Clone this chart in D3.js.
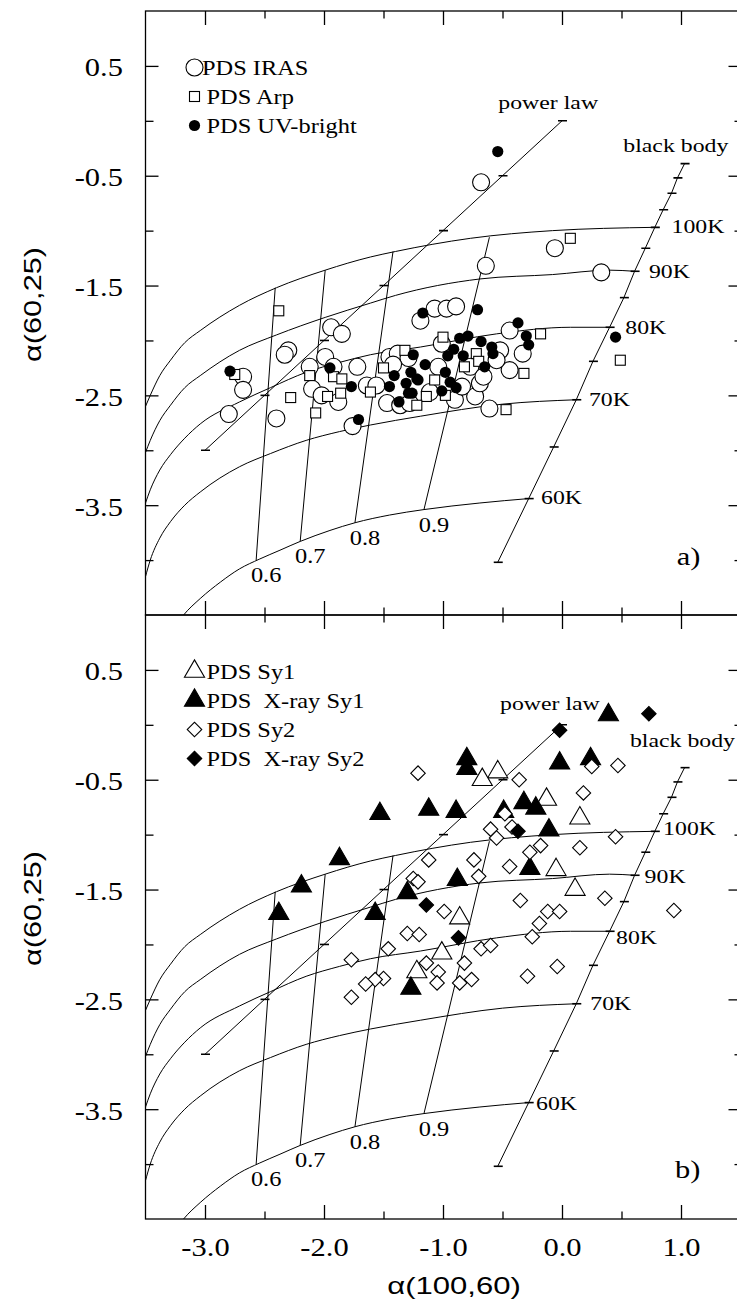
<!DOCTYPE html>
<html>
<head>
<meta charset="utf-8">
<script src="https://cdn.jsdelivr.net/npm/d3@7"></script>
<style>
  body { margin: 0; background: #fff; }
  svg text { white-space: pre; }
</style>
</head>
<body>
<div id="chart"></div>
<script>
// ---- axis ticks ----
var xMajor = [-3.0, -2.0, -1.0, 0.0, 1.0];
var xMinor = [-2.5, -1.5, -0.5, 0.5];
var yMajor = [0.5, -0.5, -1.5, -2.5, -3.5];
var yMinor = [0.0, -1.0, -2.0, -3.0, -4.0];

// ---- black body track: temperature, alpha(100,60), alpha(60,25) ----
var bbTemps = [55, 60, 65, 70, 75, 80, 85, 90, 95, 100, 105, 110, 115, 120];
var bbA100 = [-0.54, -0.28, -0.07, 0.12, 0.26, 0.40, 0.52, 0.61, 0.70, 0.78, 0.85, 0.92, 0.97, 1.03];
var bbA60 = [-4.02, -3.44, -2.97, -2.54, -2.19, -1.88, -1.61, -1.37, -1.16, -0.97, -0.81, -0.66, -0.52, -0.39];
var tempLabels = ["100K", "90K", "80K", "70K", "60K"];
var tempLabelT = [100, 90, 80, 70, 60];

// ---- power law track ----
var powerLawEnds = [[-3.0, -3.0], [0.0, 0.0]];
var powerLawTicks = [-3.0, -2.5, -2.0, -1.5, -1.0, -0.5, 0.0];

// ---- mixed model curves, one per temperature ----
var curve100K = [[-3.50,-2.60],[-3.46,-2.50],[-3.38,-2.32],[-3.29,-2.18],[-3.17,-2.02],[-3.04,-1.91],[-2.71,-1.68],[-2.40,-1.52],[-1.99,-1.36],[-1.61,-1.24],[-1.40,-1.19],[-0.77,-1.07],[-0.08,-1.00],[0.78,-0.97]];
var curve90K = [[-3.50,-3.02],[-3.46,-2.91],[-3.38,-2.73],[-3.29,-2.59],[-3.17,-2.43],[-3.04,-2.32],[-2.71,-2.09],[-2.40,-1.95],[-1.99,-1.79],[-1.61,-1.66],[-1.40,-1.59],[-0.69,-1.44],[-0.08,-1.40],[0.40,-1.36],[0.61,-1.37]];
var curve80K = [[-3.50,-3.48],[-3.46,-3.36],[-3.38,-3.18],[-3.29,-3.04],[-3.17,-2.89],[-3.04,-2.76],[-2.71,-2.56],[-2.45,-2.43],[-2.15,-2.29],[-1.87,-2.20],[-1.61,-2.13],[-1.19,-2.06],[-0.55,-1.94],[0.07,-1.88],[0.40,-1.88]];
var curve70K = [[-3.50,-4.15],[-3.46,-4.00],[-3.38,-3.80],[-3.29,-3.65],[-3.17,-3.50],[-3.04,-3.38],[-2.71,-3.15],[-2.45,-3.03],[-2.15,-2.91],[-1.87,-2.83],[-1.61,-2.77],[-1.19,-2.69],[-0.50,-2.58],[0.12,-2.54]];
var curve60K = [[-3.23,-4.57],[-3.18,-4.50],[-3.04,-4.35],[-2.87,-4.20],[-2.71,-4.08],[-2.54,-3.99],[-2.37,-3.91],[-2.20,-3.83],[-1.95,-3.73],[-1.74,-3.66],[-1.45,-3.59],[-1.16,-3.54],[-0.69,-3.48],[-0.28,-3.44]];

// ---- constant fraction lines ----
var fracLabels = ["0.6", "0.7", "0.8", "0.9"];
var fracTop = [[-2.41,-1.52],[-1.99,-1.36],[-1.42,-1.19],[-0.61,-1.06]];
var fracBottom = [[-2.57,-4.00],[-2.20,-3.83],[-1.74,-3.66],[-1.16,-3.54]];

// ---- panel a samples ----
var irasPoints = [[-0.68,-0.56],[-0.06,-1.16],[-0.64,-1.32],[0.33,-1.38],[-1.07,-1.71],[-0.97,-1.71],[-0.89,-1.69],[-1.19,-1.82],
  [-0.44,-1.91],[-0.33,-2.12],[-0.44,-2.27],[-0.61,-2.62],[-0.73,-2.51],[-0.52,-2.09],[-1.01,-2.03],[-0.77,-2.24],[-0.69,-2.39],
  [-0.55,-2.18],[-1.04,-2.24],[-1.94,-1.88],[-1.85,-1.94],[-2.30,-2.09],[-2.33,-2.13],[-2.68,-2.33],[-2.68,-2.45],[-2.80,-2.67],
  [-2.40,-2.71],[-1.76,-2.78],[-2.12,-2.24],[-1.99,-2.15],[-1.92,-2.24],[-2.10,-2.44],[-2.02,-2.50],[-1.88,-2.56],[-1.72,-2.24],
  [-1.64,-2.41],[-1.45,-2.15],[-1.38,-2.12],[-1.29,-2.16],[-1.42,-2.22],[-1.56,-2.41],[-1.47,-2.57],[-1.36,-2.59],[-1.28,-2.57],
  [-1.11,-2.47],[-0.90,-2.54],[-0.84,-2.42],[-0.66,-2.33]];
var arpPoints = [[-2.38,-1.73],[0.07,-1.07],[-0.18,-1.94],[0.49,-2.18],[-0.47,-2.63],[-0.32,-2.30],[-1.00,-1.97],[-0.72,-2.12],
  [-0.70,-2.19],[-1.07,-2.36],[-1.14,-2.51],[-0.98,-2.50],[-1.22,-2.59],[-2.75,-2.31],[-2.28,-2.52],[-2.07,-2.66],[-2.12,-2.32],
  [-1.92,-2.33],[-1.85,-2.35],[-1.97,-2.51],[-1.86,-2.48],[-1.61,-2.47],[-1.50,-2.25],[-1.32,-2.09],[-0.82,-2.24]];
var uvPoints = [[-0.54,-0.28],[0.45,-1.97],[-1.17,-1.75],[-0.71,-1.72],[-0.37,-1.84],[-0.30,-1.96],[-0.28,-2.04],[-0.86,-1.98],
  [-0.79,-1.96],[-0.68,-2.01],[-0.59,-2.06],[-0.58,-2.12],[-0.91,-2.08],[-0.96,-2.14],[-0.83,-2.14],[-0.98,-2.29],[-0.94,-2.38],
  [-0.89,-2.43],[-1.01,-2.46],[-0.65,-2.24],[-1.15,-2.22],[-1.25,-2.13],[-1.21,-2.36],[-1.26,-2.48],[-2.79,-2.28],[-1.71,-2.72],
  [-1.95,-2.25],[-1.77,-2.42],[-1.41,-2.32],[-1.45,-2.42],[-1.37,-2.56],[-1.31,-2.39],[-1.27,-2.29],[-1.22,-2.35],[-1.29,-2.48]];

// ---- panel b samples ----
var sy1Points = [[-0.54,-0.43],[-0.67,-0.50],[-0.13,-0.68],[0.15,-0.85],[-0.05,-1.32],[0.11,-1.50],[-0.86,-1.76],[-1.01,-2.08],[-1.22,-2.25]];
var xSy1Points = [[0.39,0.09],[-0.80,-0.31],[-0.80,-0.40],[-0.02,-0.35],[0.24,-0.31],[-1.53,-0.81],[-1.12,-0.77],[-0.89,-0.79],
  [-0.49,-0.79],[-0.32,-0.71],[-0.22,-0.76],[-0.11,-0.96],[-0.27,-1.31],[-0.88,-1.41],[-1.30,-1.53],[-1.57,-1.72],[-1.87,-1.22],
  [-2.19,-1.47],[-2.38,-1.72],[-1.27,-2.40]];
var sy2Points = [[-1.21,-0.44],[-0.36,-0.50],[0.25,-0.38],[0.47,-0.37],[0.18,-0.62],[-0.48,-0.81],[-0.42,-0.93],[-0.60,-0.95],
  [-0.55,-1.03],[0.45,-1.02],[-0.18,-1.10],[-0.27,-1.16],[0.15,-1.12],[-1.12,-1.23],[-0.74,-1.23],[-0.44,-1.29],[-0.70,-1.38],
  [-1.25,-1.40],[-1.21,-1.43],[-0.35,-1.60],[0.36,-1.58],[0.94,-1.69],[-0.99,-1.70],[-0.12,-1.70],[-0.02,-1.70],[-0.19,-1.81],
  [-1.30,-1.90],[-1.20,-1.91],[-0.25,-1.93],[-0.68,-2.04],[-0.60,-2.01],[-0.04,-2.20],[-0.29,-2.29],[-0.76,-2.32],[-1.46,-2.04],
  [-1.50,-2.31],[-1.57,-2.32],[-1.14,-2.17],[-1.04,-2.25],[-1.05,-2.35],[-0.82,-2.17],[-0.86,-2.35],[-1.77,-2.14],[-1.65,-2.36],
  [-1.77,-2.48]];
var xSy2Points = [[-0.02,-0.05],[0.73,0.10],[-0.37,-0.97],[-1.14,-1.64],[-0.87,-1.94]];

// ---- layout ----
var W = 737, H = 1311;
var left = 145.5, right = 740.5, panelH = 604;
var serif = "'Liberation Serif','Times New Roman',serif";
var sans = "'Liberation Sans',Arial,sans-serif";
var stretch = 1.22;

var panels = [
  { top: 11, tag: "a)", tagPos: [0.964, -4.046], plPos: [-0.535, 0.105], bbPos: [0.515, -0.281],
    tdx: [16.7, 14.3, 15.7, 12.6, 12.4], tdy: [6, 6.6, 6.6, 6, 5],
    series: [
      { name: "PDS IRAS", pts: irasPoints, type: "openCircle" },
      { name: "PDS Arp", pts: arpPoints, type: "openSquare" },
      { name: "PDS UV-bright", pts: uvPoints, type: "dot" }
    ] },
  { top: 615, tag: "b)", tagPos: [0.95, -4.13], plPos: [-0.521, 0.135], bbPos: [0.571, -0.199],
    tdx: [8.3, 10, 6.4, 14, 7.4], tdy: [3.7, 7.6, 12.6, 6, 7],
    series: [
      { name: "PDS Sy1", pts: sy1Points, type: "openTri" },
      { name: "PDS  X-ray Sy1", pts: xSy1Points, type: "fillTri" },
      { name: "PDS Sy2", pts: sy2Points, type: "openDiamond" },
      { name: "PDS  X-ray Sy2", pts: xSy2Points, type: "fillDiamond" }
    ] }
];

var svg = d3.select("#chart").append("svg")
    .attr("width", W)
    .attr("height", H)
    .style("display", "block");

var x = d3.scaleLinear().domain([-3.5, 1.5]).range([left, right]);
var y = d3.scaleLinear().domain([-4.5, 1.0]).range([panelH, 0]);

svg.append("defs").append("clipPath")
    .attr("id", "plotClip")
    .append("rect")
    .attr("x", left).attr("y", 0)
    .attr("width", right - left).attr("height", panelH);

var modelLine = d3.line()
    .curve(d3.curveMonotoneX)
    .x(function (d) { return x(d[0]); })
    .y(function (d) { return y(d[1]); });
var straight = d3.line()
    .x(function (d) { return x(d[0]); })
    .y(function (d) { return y(d[1]); });

function addMarker(sel, type) {
    if (type === "openCircle") {
        sel.append("circle").attr("r", 8.5).attr("fill", "#fff").attr("stroke", "#000").attr("stroke-width", 1.1);
    } else if (type === "dot") {
        sel.append("circle").attr("r", 5.6).attr("fill", "#000");
    } else if (type === "openSquare") {
        sel.append("rect").attr("x", -5).attr("y", -5).attr("width", 10).attr("height", 10)
            .attr("fill", "#fff").attr("stroke", "#000").attr("stroke-width", 1.1);
    } else if (type === "openTri" || type === "fillTri") {
        sel.append("path").attr("d", d3.symbol(d3.symbolTriangle, 175)())
            .attr("fill", type === "fillTri" ? "#000" : "#fff")
            .attr("stroke", "#000").attr("stroke-width", 1.1);
    } else {
        sel.append("path").attr("d", d3.symbol(d3.symbolSquare, 105)())
            .attr("transform", "rotate(45)")
            .attr("fill", type === "fillDiamond" ? "#000" : "#fff")
            .attr("stroke", "#000").attr("stroke-width", 1.1);
    }
}

function serifText(g, str, px, py, size, anchor) {
    return g.append("text")
        .attr("transform", "translate(" + px + "," + py + ") scale(" + stretch + ",1)")
        .attr("text-anchor", anchor || "start")
        .attr("font-family", serif)
        .attr("font-size", size)
        .attr("xml:space", "preserve")
        .text(str);
}

panels.forEach(function (p, pi) {
    var g = svg.append("g").attr("transform", "translate(0," + p.top + ")");

    // ---- model grid ----
    var grid = g.append("g").attr("clip-path", "url(#plotClip)")
        .attr("fill", "none").attr("stroke", "#000").attr("stroke-width", 1);

    [curve100K, curve90K, curve80K, curve70K, curve60K].forEach(function (c) {
        grid.append("path").attr("d", modelLine(c));
    });
    fracTop.forEach(function (t, i) {
        grid.append("path").attr("d", straight([t, fracBottom[i]]));
    });
    grid.append("path").attr("d", straight(powerLawEnds));
    powerLawTicks.forEach(function (v) {
        grid.append("line")
            .attr("x1", x(v) - 4).attr("x2", x(v) + 5)
            .attr("y1", y(v)).attr("y2", y(v))
            .attr("stroke-width", 1.6);
    });
    var bbPts = bbTemps.map(function (t, i) { return [bbA100[i], bbA60[i]]; });
    grid.append("path").attr("d", straight(bbPts));
    bbPts.forEach(function (d) {
        grid.append("line")
            .attr("x1", x(d[0]) - 4).attr("x2", x(d[0]) + 5)
            .attr("y1", y(d[1])).attr("y2", y(d[1]))
            .attr("stroke-width", 1.6);
    });

    // ---- model labels ----
    tempLabels.forEach(function (lab, i) {
        var k = bbTemps.indexOf(tempLabelT[i]);
        serifText(g, lab, x(bbA100[k]) + p.tdx[i], y(bbA60[k]) + p.tdy[i], 19.5);
    });
    fracLabels.forEach(function (lab, i) {
        serifText(g, lab, x(fracBottom[i][0]) + 10, y(fracBottom[i][1]) + 22, 20, "middle");
    });
    serifText(g, "power law", x(p.plPos[0]), y(p.plPos[1]), 19.5);
    serifText(g, "black body", x(p.bbPos[0]), y(p.bbPos[1]), 19.5);
    serifText(g, p.tag, x(p.tagPos[0]), y(p.tagPos[1]), 25);

    // ---- samples ----
    p.series.forEach(function (s) {
        g.append("g").selectAll("g")
            .data(s.pts)
            .enter().append("g")
            .attr("transform", function (d) { return "translate(" + x(d[0]) + "," + y(d[1]) + ")"; })
            .each(function () { addMarker(d3.select(this), s.type); });
    });

    // ---- legend ----
    p.series.forEach(function (s, i) {
        var base = 64 + i * 29;
        var m = g.append("g").attr("transform", "translate(194.5," + (base - 7.5) + ")");
        addMarker(m, s.type);
        serifText(g, s.name, s.type === "openCircle" ? 202 : 206.5, base, 20);
    });

    // ---- axes ----
    var noLabel = function () { return ""; };
    var axes = [
        g.append("g").attr("transform", "translate(0," + panelH + ")")
            .call(d3.axisBottom(x).tickValues(xMajor).tickSize(-14).tickSizeOuter(0).tickPadding(19.5)
                .tickFormat(pi === 1 ? function (d) { return d.toFixed(1); } : noLabel)),
        g.append("g").attr("transform", "translate(0," + panelH + ")")
            .call(d3.axisBottom(x).tickValues(xMinor).tickSize(-7.5).tickSizeOuter(0).tickFormat(noLabel)),
        g.append("g")
            .call(d3.axisTop(x).tickValues(xMajor).tickSize(-14).tickSizeOuter(0).tickFormat(noLabel)),
        g.append("g")
            .call(d3.axisTop(x).tickValues(xMinor).tickSize(-7.5).tickSizeOuter(0).tickFormat(noLabel)),
        g.append("g").attr("transform", "translate(" + left + ",0)")
            .call(d3.axisLeft(y).tickValues(yMajor).tickSize(-13).tickSizeOuter(0)
                .tickFormat(function (d) { return d.toFixed(1); })),
        g.append("g").attr("transform", "translate(" + left + ",0)")
            .call(d3.axisLeft(y).tickValues(yMinor).tickSize(-8).tickSizeOuter(0).tickFormat(noLabel)),
        g.append("g").attr("transform", "translate(" + right + ",0)")
            .call(d3.axisRight(y).tickValues(yMajor).tickSize(-12).tickSizeOuter(0).tickFormat(noLabel)),
        g.append("g").attr("transform", "translate(" + right + ",0)")
            .call(d3.axisRight(y).tickValues(yMinor).tickSize(-6).tickSizeOuter(0).tickFormat(noLabel))
    ];
    axes.forEach(function (a) {
        a.select(".domain").remove();
        a.selectAll("line").attr("stroke", "#000").attr("stroke-width", 1.3);
        a.selectAll("text")
            .attr("fill", "#000")
            .attr("font-family", serif)
            .attr("font-size", 25)
            .attr("transform", "scale(" + stretch + ",1)");
    });
    axes[4].selectAll("text").attr("x", -18.5).attr("dy", "0.4em");

    // frame
    g.append("rect")
        .attr("x", left).attr("y", 0)
        .attr("width", right - left).attr("height", panelH)
        .attr("fill", "none").attr("stroke", "#000").attr("stroke-width", 1.3);

    // y title
    g.append("text")
        .attr("transform", "translate(41," + 293.5 + ") rotate(-90) scale(1.28,1)")
        .attr("text-anchor", "middle")
        .attr("font-family", sans)
        .attr("font-size", 24)
        .text("α(60,25)");
});

// x title
svg.append("text")
    .attr("transform", "translate(454,1294) scale(1.35,1)")
    .attr("text-anchor", "middle")
    .attr("font-family", sans)
    .attr("font-size", 23)
    .text("α(100,60)");
</script>
</body>
</html>
